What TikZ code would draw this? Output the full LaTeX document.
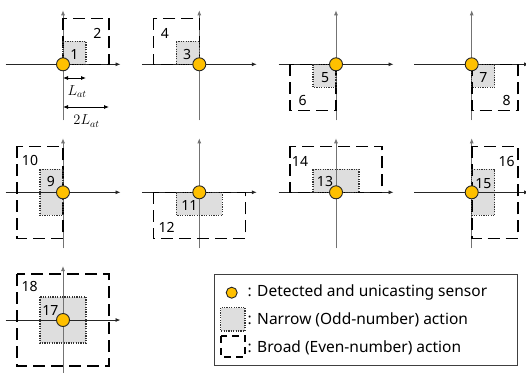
\documentclass[tikz,border=0pt]{standalone}
\usepackage{fontspec}
\setmainfont{Noto Sans}
\usetikzlibrary{arrows.meta}
\definecolor{sensorgold}{HTML}{FFC000}
\definecolor{narrowgray}{HTML}{DEDEDE}
\tikzset{
  axh/.style={black!85, line width=0.8pt, -{Latex[length=5pt,width=4pt]}},
  axv/.style={black!55, line width=0.8pt, -{Latex[length=5pt,width=4pt]}},
  narrowfill/.style={fill=narrowgray},
  narrowline/.style={draw=black!80, line width=1.2pt, dash pattern=on 1.2pt off 1.2pt},
  broadbox/.style={draw=black, line width=1.6pt, dash pattern=on 12pt off 6pt},
  sensor/.style={circle, fill=sensorgold, draw=black!85, line width=0.9pt, minimum size=13pt, inner sep=0pt},
  num/.style={font=\fontsize{14}{14}\selectfont, inner sep=0pt},
  legtext/.style={font=\fontsize{15.5}{15.5}\selectfont, inner sep=0pt, anchor=west},
  dimarrow/.style={black, line width=0.8pt, {Latex[length=5pt,width=4pt]}-{Latex[length=5pt,width=4pt]}},
  mathlabel/.style={font=\fontsize{14.5}{14.5}\selectfont, inner sep=0pt},
}
\newcommand\actdiag[9]{%
  \begin{scope}[shift={(#1)}]
    \fill[narrowfill] (#2) rectangle (#3);
    \draw[axh] (-57.5,0) -- (57.5,0);
    \draw[axv] (0,56) -- (0,-54);
    \draw[broadbox] (#4) rectangle (#5);
    \draw[narrowline] (#2) rectangle (#3);
    \node[num] (n#8) at (#6) {#8};
    \node[num] (n#9) at (#7) {#9};
    \node[sensor] (s#8) at (0,0) {};
  \end{scope}}
\begin{document}
\begin{tikzpicture}[x=1pt,y=-1pt]
\useasboundingbox (0,0) rectangle (526,372);
% row 1
\actdiag{63,64.3}{0,-23}{23,0}{0,-46}{46,0}{11.3,-9.3}{34.3,-31.3}{1}{2}
\actdiag{199.3,64.3}{-23,-23}{0,0}{-46,-46}{0,0}{-12.3,-9.3}{-34.3,-31.3}{3}{4}
\actdiag{336,64.3}{-23,0}{0,23}{-46,0}{0,46}{-11,13.7}{-33.3,35.7}{5}{6}
\actdiag{471.7,64.3}{0,0}{23,23}{0,0}{46,46}{11.6,13.7}{35,35.7}{7}{8}
% row 2
\actdiag{63,192.3}{-23,-23}{0,23}{-46,-46}{0,46}{-12,-10.6}{-33,-32.3}{9}{10}
\actdiag{199.3,192.3}{-23,0}{23,23}{-46,0}{46,46}{-10,12.7}{-32.6,35}{11}{12}
\actdiag{336,192.3}{-23,-23}{23,0}{-46,-46}{46,0}{-11,-10.6}{-36,-30.6}{13}{14}
\actdiag{471.7,192.3}{0,-23}{23,23}{0,-46}{46,46}{11.6,-9}{35,-30.6}{15}{16}
% row 3
\actdiag{63,320}{-23,-23}{23,23}{-46,-46}{46,46}{-12.6,-10}{-33.3,-33.3}{17}{18}
% dimension arrows
\coordinate (la0) at (63,78);
\coordinate (la1) at (86,78);
\coordinate (lb0) at (63,107);
\coordinate (lb1) at (109,107);
\draw[dimarrow] (la0) -- (la1);
\draw[dimarrow] (lb0) -- (lb1);
\node[mathlabel] (Lat) at (77,91.5) {$L_{at}$};
\node[mathlabel] (twoLat) at (86.5,121) {$2L_{at}$};
% legend
\node[draw=black!75, line width=1pt, minimum width=303.3pt, minimum height=91pt, inner sep=0pt, anchor=north west] (legend) at (214,274) {};
\node[sensor, minimum size=11pt] (legsensor) at (231.7,292.7) {};
\fill[narrowfill] (220.7,307.5) rectangle (245,331);
\draw[narrowline] (220.7,307.5) rectangle (245,331);
\draw[broadbox, line width=1.5pt, dash pattern=on 7pt off 5pt on 7pt off 5pt] (221,336) rectangle (245,357);
\node[legtext] (t1) at (247.5,292.5) {: Detected and unicasting sensor};
\node[legtext] (t2) at (247.5,319.5) {: Narrow (Odd-number) action};
\node[legtext] (t3) at (247.5,347.5) {: Broad (Even-number) action};
\end{tikzpicture}
\end{document}
